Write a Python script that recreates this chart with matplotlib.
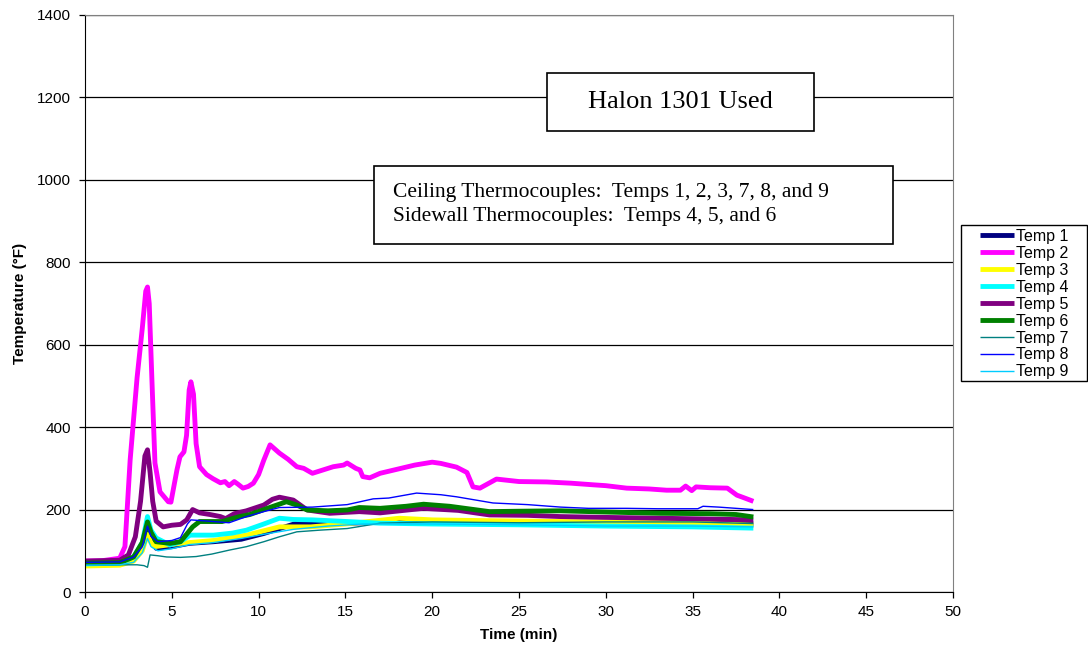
import matplotlib.pyplot as plt
from matplotlib.patches import Rectangle

plt.rcParams['font.family'] = ['Liberation Sans', 'DejaVu Sans']

# readings (time in min, temperature in deg F)
t1 = [0, 2, 2.8, 3.3, 3.6, 3.8, 4.1, 5, 6, 7.4, 9, 10.3, 12.2, 14, 16, 18, 20, 22, 25, 30, 35, 38.5]
temp1 = [70, 71, 80, 110, 150, 125, 106, 110, 118, 122, 128, 142, 167, 165, 168, 170, 168, 166, 167, 168, 167, 165]

t2 = [0, 1, 2.0, 2.3, 2.6, 3.0, 3.3, 3.5, 3.6, 3.7, 3.85, 4.03, 4.32, 4.8, 4.95, 5.3, 5.47, 5.7, 5.85,
      6.0, 6.1, 6.25, 6.4, 6.6, 7.0, 7.37, 7.8, 8.06, 8.3, 8.6, 8.8, 9.1, 9.4, 9.7, 10.0, 10.3, 10.66,
      11.2, 11.7, 12.2, 12.6, 13.1, 13.7, 14.3, 14.9, 15.1, 15.6, 15.84, 16.0, 16.4, 17.0, 18.0, 19.0,
      20.0, 20.5, 21.4, 22.0, 22.35, 22.75, 23.7, 25.0, 26.6, 28.0, 29.3, 30.0, 31.2, 32.5, 33.5, 34.3,
      34.6, 34.95, 35.2, 36.0, 37.0, 37.55, 38.0, 38.5]
temp2 = [75, 76, 82, 110, 320, 520, 640, 730, 740, 700, 520, 313, 243, 219, 218, 297, 328, 340, 380,
         490, 510, 480, 360, 304, 285, 275, 265, 268, 258, 268, 262, 252, 256, 264, 285, 320, 357,
         337, 322, 304, 300, 288, 296, 304, 308, 313, 300, 296, 280, 277, 288, 298, 308,
         315, 312, 303, 290, 255, 252, 274, 268, 267, 264, 260, 258, 252, 250, 247, 247,
         257, 246, 255, 253, 252, 235, 228, 220]

t3 = [0, 2.0, 2.8, 3.3, 3.6, 3.8, 4.0, 5.5, 7.4, 9.3, 11.2, 13, 15, 18.1, 20, 25, 30, 35, 38.5]
temp3 = [63, 65, 75, 100, 140, 120, 110, 118, 125, 138, 158, 158, 165, 179, 175, 172, 170, 168, 162]

t4 = [0, 2.0, 2.8, 3.3, 3.6, 3.8, 4.1, 4.9, 5.5, 6.05, 7.4, 8.5, 9.3, 10.3, 11.2, 12.0, 13.1, 15.1, 17.0,
      20, 25, 30, 35, 38.5]
temp4 = [68, 70, 85, 120, 183, 150, 131, 114, 122, 138, 138, 143, 150, 165, 179, 176, 175, 171, 167,
         165, 163, 160, 158, 155]

t5 = [0, 2.0, 2.5, 2.9, 3.2, 3.45, 3.6, 3.75, 3.9, 4.1, 4.5, 5.0, 5.5, 5.86, 6.2, 6.6, 7.2, 7.8, 8.1, 8.6,
      9.3, 10.3, 10.8, 11.2, 12.0, 12.5, 12.8, 14.1, 15.8, 17.0, 19.5, 21.5, 23.3, 25.5, 27.4, 30, 33.1,
      36, 38.5]
temp5 = [75, 77, 90, 134, 220, 330, 345, 290, 220, 172, 158, 162, 164, 175, 200, 192, 188, 183, 178, 190,
         197, 211, 225, 230, 223, 208, 199, 191, 195, 192, 203, 198, 187, 186, 183, 181, 179,
         177, 175]

t6 = [0, 2.0, 2.8, 3.3, 3.6, 3.8, 4.1, 4.9, 5.5, 6.2, 6.6, 7.9, 8.9, 9.5, 10.5, 11.6, 12.2, 12.8, 14.0,
      15.1, 15.8, 17.0, 18.5, 19.5, 21.0, 23.3, 25, 27.4, 30, 33.1, 36, 37.5, 38.5]
temp6 = [70, 71, 85, 120, 170, 145, 122, 118, 122, 158, 171, 171, 183, 188, 203, 219, 211, 199, 197,
         199, 205, 203, 208, 213, 208, 195, 196, 197, 194, 191, 190, 188, 182]

t7 = [0, 2, 3.0, 3.4, 3.6, 3.75, 4.2, 4.7, 5.5, 6.4, 7.3, 8.35, 9.3, 10.3, 11.2, 12.2, 13.5, 15.1, 17,
      20, 25, 30, 35, 38.5]
temp7 = [65, 66, 66, 64, 60, 90, 88, 85, 84, 86, 92, 102, 110, 122, 134, 146, 150, 154, 167,
         170, 168, 170, 170, 166]

t8 = [0, 2, 2.8, 3.3, 3.6, 3.8, 4.2, 5.0, 5.5, 5.9, 6.1, 7.4, 8.3, 9.3, 10.3, 11.2, 13.1, 15.1, 16.6,
      17.5, 19.1, 20.5, 21.4, 23.5, 25.5, 27.4, 29, 31.2, 33, 35.3, 35.6, 36.5, 37.5, 38.5]
temp8 = [72, 73, 85, 110, 160, 135, 122, 125, 132, 165, 175, 171, 168, 183, 195, 205, 206, 212, 226,
         228, 240, 236, 231, 216, 212, 206, 203, 203, 202, 202, 208, 206, 203, 200]

t9 = [0, 2, 2.8, 3.3, 3.6, 3.8, 4.2, 5, 6, 7.4, 9, 10.3, 12, 14, 16, 20, 25, 30, 35, 38.5]
temp9 = [65, 66, 72, 95, 130, 110, 100, 105, 115, 120, 130, 140, 152, 160, 165, 165, 163, 160, 160, 158]

series = [
    ('Temp 1', t1, temp1, '#000080', 3.5),
    ('Temp 2', t2, temp2, '#FF00FF', 3.5),
    ('Temp 3', t3, temp3, '#FFFF00', 3.5),
    ('Temp 4', t4, temp4, '#00FFFF', 3.5),
    ('Temp 5', t5, temp5, '#800080', 3.5),
    ('Temp 6', t6, temp6, '#008000', 3.5),
    ('Temp 7', t7, temp7, '#008080', 1.0),
    ('Temp 8', t8, temp8, '#0000FF', 1.0),
    ('Temp 9', t9, temp9, '#00CCFF', 1.0),
]

fig = plt.figure(figsize=(10.88, 6.56), dpi=100)
ax = fig.add_axes([85 / 1088, 1 - 592 / 656, 868 / 1088, 577 / 656])

for name, t, temp, color, lw in series:
    ax.plot(t, temp, color=color, lw=lw, label=name, solid_capstyle='butt')

ax.set_xlim(0, 50)
ax.set_ylim(0, 1400)
ax.set_xticks(range(0, 51, 5))
ax.set_yticks(range(0, 1401, 200))
ax.yaxis.grid(True, color='black', lw=0.9)
ax.set_axisbelow(True)
ax.tick_params(labelsize=11, direction='out', length=4, width=0.9, color='black')
ax.tick_params(axis='x', pad=5)
ax.tick_params(axis='y', pad=6)
for side in ('top', 'right'):
    ax.spines[side].set_color('#808080')
for side in ('left', 'bottom'):
    ax.spines[side].set_color('black')
ax.set_xlabel('Time (min)', fontsize=11, fontweight='bold', labelpad=7)
ax.set_ylabel('Temperature (°F)', fontsize=11, fontweight='bold', labelpad=7)

# annotation boxes
W, H = 1088, 656
fig.add_artist(Rectangle((547 / W, 1 - 131 / H), 267 / W, 58 / H, transform=fig.transFigure,
                         facecolor='white', edgecolor='black', lw=1.2, zorder=5))
fig.text(680 / W, 1 - 102 / H, 'Halon 1301 Used', family='Liberation Serif', fontsize=19,
         ha='center', va='center', zorder=6)
fig.add_artist(Rectangle((374 / W, 1 - 244 / H), 519 / W, 78 / H, transform=fig.transFigure,
                         facecolor='white', edgecolor='black', lw=1.2, zorder=5))
fig.text(393 / W, 1 - 192 / H, 'Ceiling Thermocouples:  Temps 1, 2, 3, 7, 8, and 9',
         family='Liberation Serif', fontsize=15.5, ha='left', va='center', zorder=6)
fig.text(393 / W, 1 - 217 / H, 'Sidewall Thermocouples:  Temps 4, 5, and 6',
         family='Liberation Serif', fontsize=15.5, ha='left', va='center', zorder=6)

# legend: frame drawn as its own box, entries placed inside it
fig.add_artist(Rectangle((961 / W, 1 - 381 / H), 126 / W, 156 / H, transform=fig.transFigure,
                         facecolor='white', edgecolor='black', lw=1.0, zorder=4))
leg = fig.legend(loc='upper left', bbox_to_anchor=(980 / W, 1 - 229 / H), fontsize=11.5,
                 frameon=False, handlelength=2.1, handletextpad=0.15, labelspacing=0.12,
                 borderpad=0, borderaxespad=0)
leg.set_zorder(6)

fig.savefig('out.png', dpi=100)
